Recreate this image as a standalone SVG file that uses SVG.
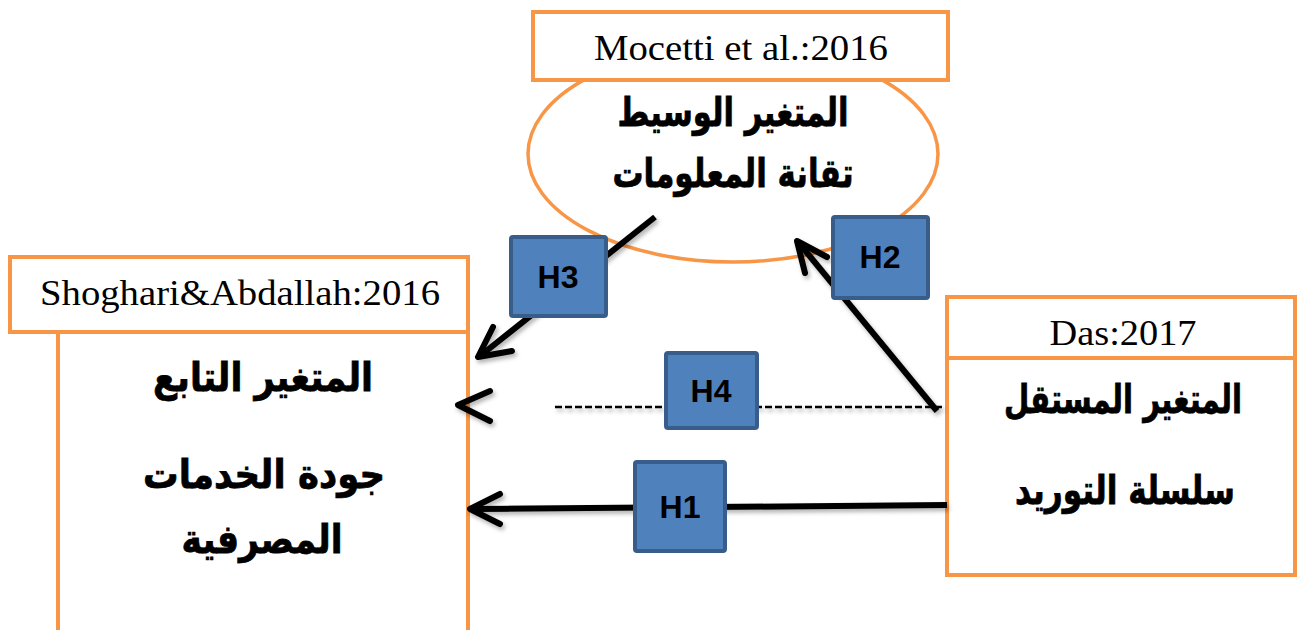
<svg xmlns="http://www.w3.org/2000/svg" width="1297" height="630" viewBox="0 0 1297 630">
<style>
.box{fill:#fff;stroke:#F79646;stroke-width:4}
.ell{fill:#fff;stroke:#F79646;stroke-width:3.5}
.en{font-family:"Liberation Serif",serif;font-size:36px;fill:#000;text-anchor:middle}
.ar{font-family:"DejaVu Sans",sans-serif;font-weight:bold;font-size:40px;fill:#000;stroke:#000;stroke-width:0.8;text-anchor:middle;direction:rtl}
.hb{fill:#4F81BD;stroke:#385D8A;stroke-width:4}
.ht{font-family:"Liberation Sans",sans-serif;font-weight:bold;font-size:32px;fill:#000;text-anchor:middle}
.ln{fill:none;stroke:#000;stroke-width:6}
.hd{fill:none;stroke:#000;stroke-width:6;stroke-linecap:round;stroke-linejoin:round}
.dash{fill:none;stroke:#000;stroke-width:2.5;stroke-dasharray:7 3}
</style>
<defs>
<filter id="sh" x="-10%" y="-10%" width="130%" height="130%">
<feDropShadow dx="2" dy="3" stdDeviation="2" flood-color="#000" flood-opacity="0.3"/>
</filter>
</defs>
<g id="node-mediator">
<ellipse class="ell" cx="733" cy="154" rx="205" ry="108"/>
<rect class="box" x="533" y="12" width="415" height="68"/>
<text class="en" x="741" y="60" textLength="294" lengthAdjust="spacingAndGlyphs">Mocetti et al.:2016</text>
<text class="ar" x="733" y="126" textLength="231" lengthAdjust="spacingAndGlyphs">المتغير الوسيط</text>
<text class="ar" x="733" y="187" textLength="241" lengthAdjust="spacingAndGlyphs">تقانة المعلومات</text>
</g>
<g id="node-dependent">
<rect class="box" x="58" y="332" width="410" height="310"/>
<rect class="box" x="10" y="257" width="458" height="75"/>
<text class="en" x="240" y="305" textLength="400" lengthAdjust="spacingAndGlyphs">Shoghari&amp;Abdallah:2016</text>
<text class="ar" x="263" y="391" textLength="220" lengthAdjust="spacingAndGlyphs">المتغير التابع</text>
<text class="ar" x="264" y="488" textLength="242" lengthAdjust="spacingAndGlyphs">جودة الخدمات</text>
<text class="ar" x="262" y="553" textLength="161" lengthAdjust="spacingAndGlyphs">المصرفية</text>
</g>
<g id="node-independent">
<rect class="box" x="947" y="358" width="348" height="217"/>
<rect class="box" x="947" y="297" width="348" height="61"/>
<text class="en" x="1123" y="345" textLength="147" lengthAdjust="spacingAndGlyphs">Das:2017</text>
<text class="ar" x="1123" y="413" textLength="238" lengthAdjust="spacingAndGlyphs">المتغير المستقل</text>
<text class="ar" x="1125" y="504" textLength="220" lengthAdjust="spacingAndGlyphs">سلسلة التوريد</text>
</g>
<g id="connectors" filter="url(#sh)">
<line class="ln" x1="655" y1="217" x2="480" y2="356"/>
<polyline class="hd" points="493,327 478,357 512,351"/>
<line class="ln" x1="937" y1="411" x2="799" y2="243"/>
<polyline class="hd" points="805,273 797,241 827,257"/>
<line class="dash" x1="555" y1="407" x2="945" y2="407"/>
<polyline class="hd" points="490,391 458,405 490,421"/>
<line class="ln" x1="947" y1="505" x2="472" y2="509"/>
<polyline class="hd" points="500,494 470,509 500,524"/>
</g>
<g id="label-H3">
<rect class="hb" x="511" y="237" width="95" height="79" rx="2"/>
<text class="ht" x="558" y="288">H3</text>
</g>
<g id="label-H2">
<rect class="hb" x="833" y="217" width="95" height="81" rx="2"/>
<text class="ht" x="880" y="268">H2</text>
</g>
<g id="label-H4">
<rect class="hb" x="666" y="353" width="91" height="75" rx="2"/>
<text class="ht" x="711" y="402">H4</text>
</g>
<g id="label-H1">
<rect class="hb" x="635" y="462" width="90" height="89" rx="2"/>
<text class="ht" x="680" y="518">H1</text>
</g>
</svg>
